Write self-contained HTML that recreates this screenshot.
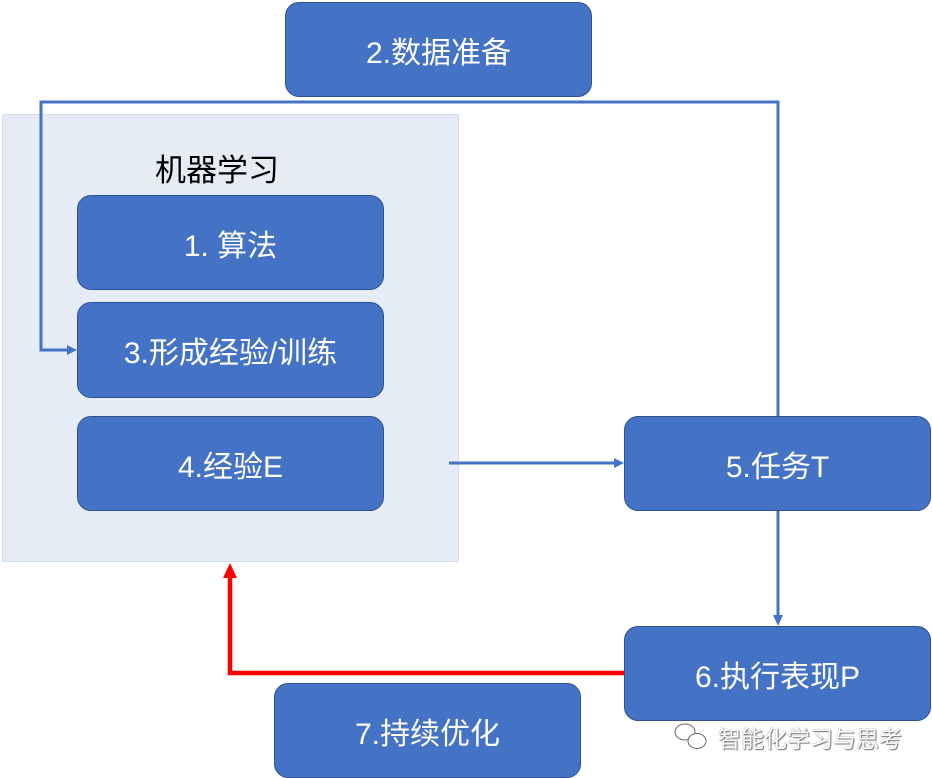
<!DOCTYPE html>
<html><head><meta charset="utf-8"><style>
html,body{margin:0;padding:0;background:#fff;}
body{width:932px;height:778px;position:relative;overflow:hidden;font-family:"Liberation Sans","Noto Sans CJK SC",sans-serif;}
.c{position:absolute;left:2px;top:114px;width:455px;height:446px;background:#e6ecf6;border:1px solid #d3ddef;}
.b{position:absolute;width:304px;height:92px;background:#4472c4;border:1.5px solid #2f528f;border-radius:14px;color:#fff;font-size:30px;display:flex;align-items:center;justify-content:center;box-sizing:border-box;}
.t{position:absolute;left:155px;top:145px;font-size:31px;color:#000;}
.w{position:absolute;left:718px;top:720px;font-size:23px;color:#fff;text-shadow:0 0 1px #555,1px 1px 1px #777;}
svg{position:absolute;left:0;top:0;}
</style></head><body>
<div class="c"></div>
<div class="t">机器学习</div>
<div class="b" style="left:285px;top:2px;width:307px;height:95px;">2.数据准备</div>
<div class="b" style="left:77px;top:195px;width:307px;height:95px;">1. 算法</div>
<div class="b" style="left:77px;top:302px;width:307px;height:96px;">3.形成经验/训练</div>
<div class="b" style="left:77px;top:416px;width:307px;height:95px;">4.经验E</div>
<div class="b" style="left:624px;top:416px;width:307px;height:95px;">5.任务T</div>
<div class="b" style="left:624px;top:626px;width:307px;height:95px;">6.执行表现P</div>
<div class="b" style="left:274px;top:683px;width:307px;height:95px;">7.持续优化</div>
<svg width="932" height="778">
<polyline points="778,416 778,102 41,102 41,350 70,350" fill="none" stroke="#4472c4" stroke-width="3"/>
<polygon points="77,350 67,345 67,355" fill="#4472c4"/>
<line x1="449" y1="463" x2="616" y2="463" stroke="#4472c4" stroke-width="3"/>
<polygon points="624,463 614,458 614,468" fill="#4472c4"/>
<line x1="778" y1="511" x2="778" y2="617" stroke="#4472c4" stroke-width="3"/>
<polygon points="778,626 773,615 783,615" fill="#4472c4"/>
<polyline points="624,673 230,673 230,575" fill="none" stroke="#ff0000" stroke-width="4.5"/>
<polygon points="230,563 223,578 237,578" fill="#ff0000"/>
<g fill="#fff" stroke="#666" stroke-width="1">
<ellipse cx="685" cy="732" rx="10" ry="8"/>
<ellipse cx="697" cy="741" rx="9" ry="7.5"/>
</g>
</svg>
<div class="w">智能化学习与思考</div>
</body></html>
